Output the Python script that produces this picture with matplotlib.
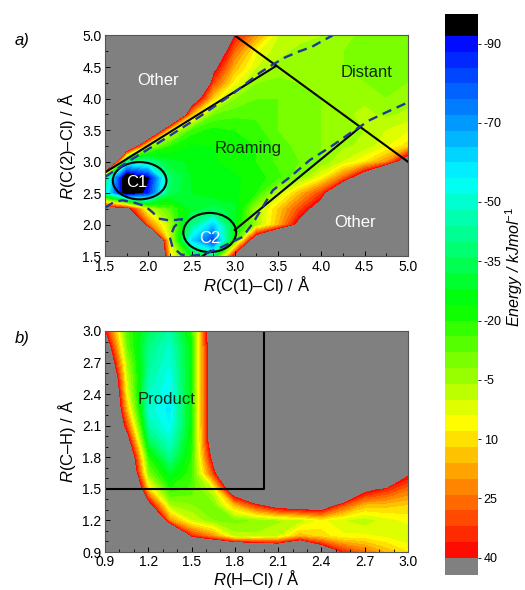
import numpy as np
import matplotlib.pyplot as plt
from matplotlib.colors import LinearSegmentedColormap
from matplotlib.patches import Ellipse
from matplotlib.ticker import MultipleLocator, FormatStrFormatter

plt.rcParams['font.family'] = ['Liberation Sans', 'DejaVu Sans']
plt.rcParams['mathtext.fontset'] = 'custom'
plt.rcParams['mathtext.rm'] = 'Liberation Sans'
plt.rcParams['mathtext.it'] = 'Liberation Sans:italic'
plt.rcParams['axes.unicode_minus'] = False

# ---- panel a: energy (kJ/mol), rows = R(C(2)-Cl), cols = R(C(1)-Cl)
r_c1cl = [1.5, 1.75, 2.0, 2.25, 2.5, 2.75, 3.0, 3.25, 3.5, 3.75, 4.0, 4.25, 4.5, 4.75, 5.0]
r_c2cl = [1.5, 1.75, 2.0, 2.25, 2.5, 2.75, 3.0, 3.25, 3.5, 3.75, 4.0, 4.25, 4.5, 4.75, 5.0]
e_a = [
    [135, 135, 135, 10, -25, -40, 45, 100, 100, 100, 100, 100, 100, 100, 100],
    [100, 100, 125, 0, -62, -86, -20, 60, 100, 100, 100, 100, 100, 100, 100],
    [100, 100, 25, -5, -42, -65, -28, -5, 15, 45, 100, 100, 100, 100, 100],
    [50, 45, 0, -15, -30, -35, -30, -5, 12, 30, 50, 100, 100, 100, 100],
    [-50, -106, -88, -35, -28, -25, -25, -20, -2, 15, 32, 70, 100, 100, 100],
    [-35, -112, -95, -38, -28, -25, -25, -22, -18, -8, 5, 25, 55, 100, 100],
    [127, -50, -45, -30, -27, -25, -22, -20, -15, -12, -8, 0, 8, 20, 55],
    [100, 75, -5, -20, -25, -24, -22, -20, -15, -10, -8, -5, -3, 3, 10],
    [100, 100, 90, 5, -18, -22, -20, -18, -12, -8, -8, -6, -4, 0, 3],
    [100, 100, 100, 104, 15, -12, -15, -15, -12, -10, -8, -5, -3, -5, -3],
    [100, 100, 100, 100, 57, 10, -8, -12, -12, -10, -8, -6, -5, -8, -6],
    [100, 100, 100, 100, 100, 30, 5, -8, -10, -8, -6, -6, -8, -10, -8],
    [100, 100, 100, 100, 100, 45, 15, 0, -5, -6, -6, -8, -10, -10, -8],
    [100, 100, 100, 100, 100, 60, 25, 5, -3, -5, -5, -8, -10, -12, -10],
    [100, 100, 100, 100, 100, 80, 38, 18, 0, -3, -4, -6, -10, -12, -10],
]

# ---- panel b: rows = R(C-H), cols = R(H-Cl)
r_hcl = [0.9, 1.05, 1.2, 1.35, 1.5, 1.65, 1.8, 1.95, 2.1, 2.25, 2.4, 2.55, 2.7, 2.85, 3.0]
r_ch = [0.9, 1.05, 1.2, 1.35, 1.5, 1.65, 1.8, 1.95, 2.1, 2.25, 2.4, 2.55, 2.7, 2.85, 3.0]
e_b = [
    [100, 100, 100, 100, 100, 100, 100, 90, 80, 100, 60, 35, 25, 15, 8],
    [100, 100, 100, 100, 35, 20, -2, -3, 0, 15, 10, 5, 5, 3, 0],
    [100, 100, 100, 20, 0, -8, -10, -8, -5, -3, 5, 0, -3, 2, 5],
    [100, 100, 45, -5, -8, -10, 15, 35, 50, 55, 55, 30, 15, 14, 12],
    [100, 100, 10, -20, -15, 0, 60, 100, 100, 100, 100, 100, 45, 35, 25],
    [100, 80, -10, -30, -18, 30, 100, 100, 100, 100, 100, 100, 100, 100, 42],
    [100, 70, -20, -42, -20, 45, 100, 100, 100, 100, 100, 100, 100, 100, 100],
    [100, 50, -35, -50, -22, 55, 100, 100, 100, 100, 100, 100, 100, 100, 100],
    [100, 30, -45, -56, -25, 60, 100, 100, 100, 100, 100, 100, 100, 100, 100],
    [100, 15, -50, -58, -25, 60, 100, 100, 100, 100, 100, 100, 100, 100, 100],
    [100, 5, -48, -56, -25, 60, 100, 100, 100, 100, 100, 100, 100, 100, 100],
    [90, 0, -45, -55, -25, 60, 100, 100, 100, 100, 100, 100, 100, 100, 100],
    [70, -5, -42, -52, -25, 60, 100, 100, 100, 100, 100, 100, 100, 100, 100],
    [55, -12, -40, -50, -25, 60, 100, 100, 100, 100, 100, 100, 100, 100, 100],
    [38, -15, -35, -45, -20, 60, 100, 100, 100, 100, 100, 100, 100, 100, 100],
]

cbar_ticks = [-90, -70, -50, -35, -20, -5, 10, 25, 40]

# region borders and the dashed contour in panel a
distant_x, distant_y = [3.0, 5.0], [5.0, 3.0]
upper_x, upper_y = [1.5, 3.48], [2.83, 4.52]
lower_x, lower_y = [3.0, 4.45], [1.92, 3.55]
c2_x, c2_y = [2.62, 2.72], [1.5, 1.59]
dash_up_x = [1.5, 1.8, 2.2, 2.6, 3.0, 3.3, 3.56, 3.73, 3.89, 4.02, 4.13]
dash_up_y = [2.76, 3.03, 3.37, 3.72, 4.1, 4.42, 4.64, 4.74, 4.82, 4.92, 5.0]
dash_lo_x = [1.5, 1.6, 1.7, 1.82, 1.96, 2.05, 2.12, 2.25, 2.39, 2.3, 2.25, 2.28, 2.38,
             2.5, 2.62, 2.71, 2.85, 2.94, 3.09, 3.21, 3.32, 3.44, 3.64, 3.87, 4.1,
             4.33, 4.56, 4.76, 5.0]
dash_lo_y = [2.27, 2.36, 2.39, 2.36, 2.3, 2.2, 2.1, 2.07, 2.09, 1.97, 1.8, 1.65, 1.53,
             1.51, 1.53, 1.57, 1.65, 1.71, 1.81, 2.03, 2.28, 2.55, 2.76, 3.03, 3.23,
             3.45, 3.66, 3.79, 3.94]
product_x, product_y = [0.9, 2.0, 2.0], [1.5, 1.5, 3.0]

levels = np.arange(-92, 41, 4)
cmap = LinearSegmentedColormap.from_list(
    'pes', [(0, '#0000ff'), (36 / 132, '#00ffff'), (68 / 132, '#00ff00'),
            (98 / 132, '#ffff00'), (1, '#ff0000')])
cmap.set_under('black')
cmap.set_over('#808080')

fig = plt.figure(figsize=(5.25, 5.9), dpi=100)
ax1 = fig.add_axes([0.2, 0.5653, 0.577, 0.3746])
ax2 = fig.add_axes([0.2, 0.0644, 0.577, 0.3746])

cs = ax1.contourf(r_c1cl, r_c2cl, np.array(e_a), levels=levels, cmap=cmap, extend='both')
ax2.contourf(r_hcl, r_ch, np.array(e_b), levels=levels, cmap=cmap, extend='both')

for ax in (ax1, ax2):
    ax.set_facecolor('#808080')
    ax.tick_params(which='both', direction='in', labelsize=10, top=False, right=False)
    ax.tick_params(which='major', length=3.5, width=0.7, pad=2.5)
    ax.tick_params(which='minor', length=2, width=0.6)
    ax.xaxis.set_major_formatter(FormatStrFormatter('%.1f'))
    ax.yaxis.set_major_formatter(FormatStrFormatter('%.1f'))
    for s in ax.spines.values():
        s.set_color('#555555')
        s.set_linewidth(0.8)

ax1.set_xlim(1.5, 5.0)
ax1.set_ylim(1.5, 5.0)
ax1.xaxis.set_major_locator(MultipleLocator(0.5))
ax1.yaxis.set_major_locator(MultipleLocator(0.5))
ax1.xaxis.set_minor_locator(MultipleLocator(0.25))
ax1.yaxis.set_minor_locator(MultipleLocator(0.25))
ax1.set_xlabel('$R$(C(1)–Cl) / Å', fontsize=12, labelpad=0)
ax1.set_ylabel('$R$(C(2)–Cl) / Å', fontsize=12, labelpad=3)

ax1.plot(distant_x, distant_y, color='black', lw=1.5)
ax1.plot(upper_x, upper_y, color='black', lw=1.5)
ax1.plot(lower_x, lower_y, color='black', lw=1.5)
ax1.plot(c2_x, c2_y, color='black', lw=1.5)
ax1.plot(dash_up_x, dash_up_y, color='#23369a', lw=1.7, dashes=(4, 2.5))
ax1.plot(dash_lo_x, dash_lo_y, color='#23369a', lw=1.7, dashes=(4, 2.5))
ax1.add_patch(Ellipse((1.9, 2.7), 0.62, 0.59, fill=False, ec='black', lw=1.5))
ax1.add_patch(Ellipse((2.71, 1.88), 0.61, 0.62, fill=False, ec='black', lw=1.5))

ax1.text(2.11, 4.29, 'Other', color='white', fontsize=12, ha='center', va='center')
ax1.text(4.39, 2.04, 'Other', color='white', fontsize=12, ha='center', va='center')
ax1.text(4.52, 4.41, 'Distant', color='#102a10', fontsize=12, ha='center', va='center')
ax1.text(3.15, 3.21, 'Roaming', color='#102a10', fontsize=12, ha='center', va='center')
ax1.text(1.87, 2.67, 'C1', color='white', fontsize=12, ha='center', va='center')
ax1.text(2.71, 1.79, 'C2', color='white', fontsize=12, ha='center', va='center')

ax2.set_xlim(0.9, 3.0)
ax2.set_ylim(0.9, 3.0)
ax2.xaxis.set_major_locator(MultipleLocator(0.3))
ax2.yaxis.set_major_locator(MultipleLocator(0.3))
ax2.xaxis.set_minor_locator(MultipleLocator(0.1))
ax2.yaxis.set_minor_locator(MultipleLocator(0.1))
ax2.set_xlabel('$R$(H–Cl) / Å', fontsize=12, labelpad=-1)
ax2.set_ylabel('$R$(C–H) / Å', fontsize=12, labelpad=3)
ax2.plot(product_x, product_y, color='black', lw=1.5)
ax2.text(1.33, 2.35, 'Product', color='#102a10', fontsize=12, ha='center', va='center')

fig.text(0.042, 0.932, 'a)', fontsize=12, style='italic', ha='center', va='center')
fig.text(0.042, 0.427, 'b)', fontsize=12, style='italic', ha='center', va='center')

cax = fig.add_axes([0.8476, 0.0254, 0.0629, 0.9508])
cb = fig.colorbar(cs, cax=cax, ticks=cbar_ticks, extendrect=True, extendfrac=(0.033, 0.042))
cb.ax.invert_yaxis()
cb.outline.set_visible(False)
cb.ax.tick_params(labelsize=9, length=2, width=0.6, pad=2)
fig.text(0.979, 0.548, 'Energy / kJmol$^{-1}$', fontsize=11.5, style='italic',
         rotation=90, ha='center', va='center')

fig.savefig('out.png', dpi=100)
